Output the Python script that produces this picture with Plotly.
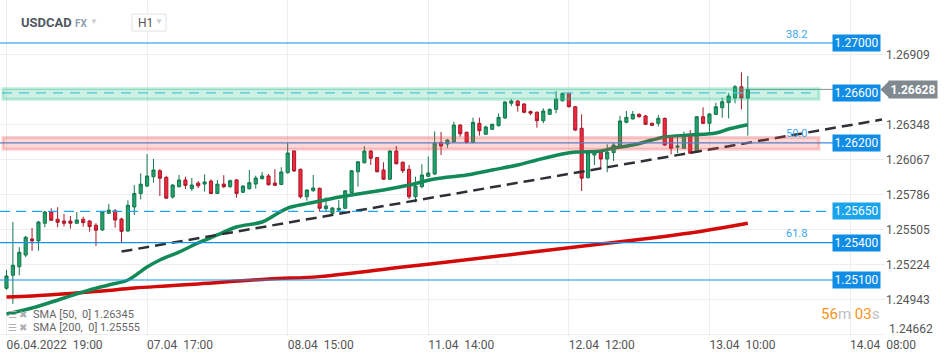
import plotly.graph_objects as go

# ---------------- data ----------------
x_tick_idx = [0, 22, 44, 66, 88, 110, 132]
x_tick_text = ["06.04.2022\u00a0\u00a019:00", "07.04\u00a0\u00a017:00", "08.04\u00a0\u00a015:00",
               "11.04\u00a0\u00a014:00", "12.04\u00a0\u00a012:00", "13.04\u00a0\u00a010:00",
               "14.04\u00a0\u00a008:00"]
y_tick_vals = [1.24662, 1.24943, 1.25224, 1.25505, 1.25786, 1.26067, 1.26348, 1.26628, 1.26909]
y_tick_text = ["", "1.24943", "1.25224", "1.25505", "1.25786", "1.26067", "1.26348", "", "1.26909"]
bottom_tick_label = "1.24662"

opens = [1.25034, 1.25138, 1.25206, 1.25300, 1.25429, 1.25413, 1.25555, 1.25645, 1.25587, 1.25573,
         1.25573, 1.25555, 1.25587, 1.25573, 1.25539, 1.25501, 1.25635, 1.25655, 1.25589, 1.25493,
         1.25685, 1.25794, 1.25853, 1.25928, 1.25976, 1.25923, 1.25765, 1.25848, 1.25902, 1.25832,
         1.25877, 1.25869, 1.25893, 1.25794, 1.25869, 1.25848, 1.25902, 1.25803, 1.25832, 1.25869,
         1.25912, 1.25934, 1.25877, 1.25866, 1.25960, 1.26134, 1.25987, 1.25767, 1.25815, 1.25835,
         1.25672, 1.25635, 1.25661, 1.25675, 1.25800, 1.25968, 1.26040, 1.26134, 1.26081, 1.25982,
         1.25908, 1.26134, 1.26044, 1.25987, 1.25767, 1.25848, 1.25931, 1.25950, 1.26203, 1.26190,
         1.26208, 1.26342, 1.26284, 1.26203, 1.26356, 1.26268, 1.26308, 1.26337, 1.26399, 1.26517,
         1.26535, 1.26511, 1.26450, 1.26445, 1.26377, 1.26428, 1.26468, 1.26537, 1.26596, 1.26489,
         1.26316, 1.25920, 1.26102, 1.26134, 1.26070, 1.26121, 1.26169, 1.26364, 1.26391, 1.26428,
         1.26415, 1.26356, 1.26356, 1.26396, 1.26257, 1.26165, 1.26156, 1.26262, 1.26124, 1.26409,
         1.26356, 1.26428, 1.26481, 1.26522, 1.26559, 1.26649, 1.26559]
highs = [1.25180, 1.25565, 1.25363, 1.25453, 1.25517, 1.25573, 1.25655, 1.25675, 1.25683, 1.25629,
         1.25613, 1.25645, 1.25608, 1.25581, 1.25555, 1.25655, 1.25709, 1.25669, 1.25599, 1.25739,
         1.25861, 1.25955, 1.26110, 1.26070, 1.25990, 1.25934, 1.25869, 1.25942, 1.25928, 1.25918,
         1.25893, 1.25947, 1.25907, 1.25902, 1.25940, 1.25904, 1.25910, 1.25861, 1.25982, 1.25936,
         1.25966, 1.25950, 1.25988, 1.26004, 1.26202, 1.26142, 1.25994, 1.25829, 1.25942, 1.25841,
         1.25763, 1.25685, 1.25741, 1.25821, 1.25982, 1.26054, 1.26174, 1.26142, 1.26086, 1.26044,
         1.26142, 1.26174, 1.26050, 1.26022, 1.25928, 1.26028, 1.26089, 1.26291, 1.26286, 1.26230,
         1.26369, 1.26350, 1.26290, 1.26401, 1.26401, 1.26337, 1.26354, 1.26436, 1.26533, 1.26551,
         1.26543, 1.26517, 1.26459, 1.26451, 1.26477, 1.26475, 1.26615, 1.26603, 1.26603, 1.26495,
         1.26428, 1.26130, 1.26138, 1.26142, 1.26188, 1.26198, 1.26417, 1.26455, 1.26455, 1.26436,
         1.26423, 1.26363, 1.26423, 1.26402, 1.26262, 1.26257, 1.26289, 1.26302, 1.26415, 1.26484,
         1.26439, 1.26521, 1.26561, 1.26597, 1.26663, 1.26765, 1.26735]
lows = [1.25020, 1.24908, 1.25138, 1.25284, 1.25334, 1.25334, 1.25523, 1.25573, 1.25523, 1.25528,
        1.25512, 1.25549, 1.25528, 1.25488, 1.25373, 1.25493, 1.25629, 1.25520, 1.25395, 1.25485,
        1.25621, 1.25746, 1.25845, 1.25880, 1.25773, 1.25749, 1.25753, 1.25842, 1.25829, 1.25815,
        1.25837, 1.25808, 1.25789, 1.25789, 1.25837, 1.25840, 1.25760, 1.25797, 1.25825, 1.25832,
        1.25906, 1.25857, 1.25853, 1.25861, 1.25953, 1.25966, 1.25754, 1.25735, 1.25809, 1.25648,
        1.25648, 1.25621, 1.25653, 1.25669, 1.25794, 1.25848, 1.26034, 1.26022, 1.25962, 1.25902,
        1.25902, 1.26026, 1.25957, 1.25749, 1.25722, 1.25835, 1.25926, 1.25942, 1.26102, 1.26160,
        1.26202, 1.26249, 1.26194, 1.26194, 1.26257, 1.26262, 1.26302, 1.26330, 1.26391, 1.26495,
        1.26450, 1.26437, 1.26421, 1.26321, 1.26356, 1.26423, 1.26437, 1.26531, 1.26483, 1.26294,
        1.25813, 1.25914, 1.26022, 1.25990, 1.25964, 1.26054, 1.26162, 1.26356, 1.26387, 1.26401,
        1.26342, 1.26334, 1.26330, 1.26174, 1.26108, 1.26118, 1.26150, 1.26110, 1.26118, 1.26350,
        1.26289, 1.26423, 1.26401, 1.26396, 1.26516, 1.26468, 1.26257]
closes = [1.25132, 1.25218, 1.25322, 1.25443, 1.25413, 1.25565, 1.25645, 1.25579, 1.25563, 1.25555,
          1.25555, 1.25581, 1.25560, 1.25528, 1.25499, 1.25648, 1.25661, 1.25581, 1.25490, 1.25699,
          1.25794, 1.25868, 1.25934, 1.25982, 1.25916, 1.25756, 1.25861, 1.25902, 1.25859, 1.25861,
          1.25855, 1.25886, 1.25794, 1.25868, 1.25848, 1.25896, 1.25794, 1.25853, 1.25880, 1.25918,
          1.25934, 1.25864, 1.25859, 1.25966, 1.26118, 1.25974, 1.25767, 1.25821, 1.25837, 1.25675,
          1.25693, 1.25677, 1.25675, 1.25815, 1.25976, 1.26048, 1.26134, 1.26076, 1.25968, 1.25908,
          1.26134, 1.26032, 1.25976, 1.25767, 1.25853, 1.25942, 1.25958, 1.26198, 1.26174, 1.26222,
          1.26342, 1.26272, 1.26203, 1.26364, 1.26297, 1.26327, 1.26348, 1.26404, 1.26527, 1.26535,
          1.26498, 1.26444, 1.26437, 1.26377, 1.26455, 1.26468, 1.26551, 1.26596, 1.26489, 1.26302,
          1.25916, 1.26124, 1.26128, 1.26070, 1.26124, 1.26182, 1.26375, 1.26404, 1.26428, 1.26409,
          1.26348, 1.26340, 1.26396, 1.26182, 1.26156, 1.26173, 1.26262, 1.26116, 1.26409, 1.26356,
          1.26431, 1.26489, 1.26529, 1.26575, 1.26649, 1.26559, 1.26628]

sma50_idx = [0, 4, 9, 13, 16, 19, 22, 24, 27, 30, 33, 36, 40, 42, 44, 47, 49, 53, 59, 63, 67, 72,
             76, 80, 83, 87, 89, 93, 95, 98, 101, 103, 107, 111, 113, 116]
sma50_val = [1.24827, 1.24875, 1.24956, 1.25020, 1.25060, 1.25100, 1.25204, 1.25260, 1.25324, 1.25397,
             1.25461, 1.25525, 1.25565, 1.25621, 1.25677, 1.25712, 1.25733, 1.25773, 1.25821, 1.25861,
             1.25910, 1.25942, 1.25982, 1.26022, 1.26062, 1.26110, 1.26126, 1.26134, 1.26158, 1.26182,
             1.26222, 1.26246, 1.26262, 1.26278, 1.26310, 1.26345]
sma200_idx = [0, 4, 10, 15, 20, 25, 30, 41, 49, 62, 69, 77, 85, 93, 101, 109, 116]
sma200_val = [1.24964, 1.24972, 1.24992, 1.25012, 1.25036, 1.25052, 1.25068, 1.25108, 1.25127, 1.25204,
              1.25244, 1.25292, 1.25340, 1.25388, 1.25437, 1.25493, 1.25555]

trend_idx = [18, 137]
trend_val = [1.25328, 1.26386]

solid_levels = [1.27000, 1.25400, 1.25100]
dashed_level = 1.25650
green_zone = [1.26537, 1.26645]
green_zone_mid = 1.26600
red_zone = [1.26136, 1.26254]
red_zone_mid = 1.26200
box_labels = ["1.27000", "1.26600", "1.26200", "1.25650", "1.25400", "1.25100"]
box_levels = [1.27000, 1.26600, 1.26200, 1.25650, 1.25400, 1.25100]
fib_labels = ["38.2", "50.0", "61.8"]
fib_levels = [1.27000, 1.26200, 1.25400]
current_price = 1.26628
current_label = "1.26628"
sma_legend = ["SMA [50,\u00a0\u00a00] 1.26345", "SMA [200,\u00a0\u00a00] 1.25555"]

# ---------------- layout helpers ----------------
PW, PH = 885, 336


def px(v):
    return v / PW


def py(v):
    return 1 - v / PH


fig = go.Figure()
fig.add_trace(go.Candlestick(
    x=list(range(len(opens))), open=opens, high=highs, low=lows, close=closes,
    increasing=dict(fillcolor="#23a26c", line=dict(color="#14774d", width=1)),
    decreasing=dict(fillcolor="#f0283c", line=dict(color="#a8182a", width=1)),
    whiskerwidth=0, showlegend=False, hoverinfo="skip"))
fig.add_trace(go.Scatter(x=sma200_idx, y=sma200_val, mode="lines",
                         line=dict(color="#d20a0a", width=3.5, shape="spline"),
                         showlegend=False, hoverinfo="skip"))
fig.add_trace(go.Scatter(x=sma50_idx, y=sma50_val, mode="lines",
                         line=dict(color="#128a58", width=3.5, shape="spline"),
                         showlegend=False, hoverinfo="skip"))
fig.add_trace(go.Scatter(x=trend_idx, y=trend_val, mode="lines",
                         line=dict(color="#2d3135", width=2.5, dash="11px,6px"),
                         showlegend=False, hoverinfo="skip"))

shapes = []
# current price line
shapes.append(dict(type="line", xref="x", yref="y", x0=len(opens) - 1, x1=(833 - 6.5) / 6.39,
                   y0=current_price, y1=current_price, line=dict(color="#8a9297", width=1)))
# horizontal level lines
for lv in solid_levels:
    shapes.append(dict(type="line", xref="paper", yref="y", x0=0, x1=px(833), y0=lv, y1=lv,
                       line=dict(color="#1592ea", width=1.2)))
shapes.append(dict(type="line", xref="paper", yref="y", x0=0, x1=px(828), y0=dashed_level, y1=dashed_level,
                   line=dict(color="#1fa3f0", width=1.4, dash="10px,6px")))
shapes.append(dict(type="line", xref="paper", yref="y", x0=0, x1=px(833), y0=red_zone_mid, y1=red_zone_mid,
                   line=dict(color="#3d8ee6", width=1.2)))
shapes.append(dict(type="line", xref="paper", yref="y", x0=px(2), x1=px(816), y0=green_zone_mid,
                   y1=green_zone_mid, line=dict(color="#5fc3ee", width=1.2, dash="10px,7px")))
# zones
shapes.append(dict(type="rect", xref="paper", yref="y", x0=px(3), x1=px(819),
                   y0=green_zone[0] + 0.00012, y1=green_zone[1] - 0.00012,
                   fillcolor="rgba(40,195,140,0.23)", line=dict(color="rgba(40,195,140,0.3)", width=3)))
shapes.append(dict(type="rect", xref="paper", yref="y", x0=px(3), x1=px(819),
                   y0=red_zone[0] + 0.00012, y1=red_zone[1] - 0.00012,
                   fillcolor="rgba(240,60,60,0.2)", line=dict(color="rgba(240,60,60,0.24)", width=3)))
# H1 selector box
shapes.append(dict(type="rect", xref="paper", yref="paper", x0=px(132), x1=px(166), y0=py(31), y1=py(14),
                   line=dict(color="#dfe2e6", width=1), fillcolor="white"))
# current price pointer
shapes.append(dict(type="path", xref="paper", yref="y",
                   path=f"M {px(880.5)},{current_price} L {px(889)},{current_price + 0.00067} "
                        f"L {px(889)},{current_price - 0.00067} Z",
                   fillcolor="#7f898f", line=dict(width=0)))

ann = []
for lab, lv in zip(box_labels, box_levels):
    col = "#1aa4ec" if lab == "1.25650" else "#0f8ce6"
    ann.append(dict(xref="paper", yref="y", x=px(856.5), y=lv, xanchor="center", yanchor="middle",
                    text=lab, showarrow=False,
                    font=dict(color="white", size=12), bgcolor=col, width=45, height=14, borderpad=1))
ann.append(dict(xref="paper", yref="y", x=px(912.5), y=current_price, xanchor="center", yanchor="middle",
                text="<b>" + current_label + "</b>",
                showarrow=False, font=dict(color="white", size=12), bgcolor="#7f898f",
                width=46, height=15, borderpad=1))
for lab, lv in zip(fib_labels, fib_levels):
    ann.append(dict(xref="paper", yref="y", x=px(796), y=lv, yshift=9, xanchor="center", yanchor="middle",
                    text=lab, showarrow=False, font=dict(color="#3aa6f0", size=11)))
# lowest price-axis label (raised above the time axis, as in the original)
ann.append(dict(xref="paper", yref="paper", x=px(887), y=py(329), xanchor="left", yanchor="middle",
                text=bottom_tick_label, showarrow=False, font=dict(color="#555", size=12)))
# header
hdr = dict(xref="paper", yref="paper", yanchor="middle", xanchor="left", showarrow=False)
ann.append(dict(hdr, x=px(19), y=py(23), text="<b>USDCAD</b>", font=dict(color="#4f5862", size=13)))
ann.append(dict(hdr, x=px(73), y=py(24), text="<b>FX</b>", font=dict(color="#8fa0ad", size=10)))
ann.append(dict(hdr, x=px(88), y=py(21), text="▼", font=dict(color="#c8ccd0", size=8)))
ann.append(dict(hdr, x=px(136), y=py(23), text="H1", font=dict(color="#555", size=12)))
ann.append(dict(hdr, x=px(153), y=py(22), text="▼", font=dict(color="#c8ccd0", size=8)))
# SMA legend
for i, t in enumerate(sma_legend):
    yy = py(314 + 13 * i)
    ann.append(dict(hdr, x=px(6), y=yy, text="☰ ✖", font=dict(color="#b0b0b0", size=10)))
    ann.append(dict(hdr, x=px(31), y=yy, text=t, font=dict(color="#666", size=11)))
# timer
ann.append(dict(xref="paper", yref="paper", x=px(881), y=py(314), xanchor="right", yanchor="middle",
                text="<span style='color:#f7941d'>56</span><span style='color:#c0c0c0'>m</span> "
                     "<span style='color:#f7941d'>03</span><span style='color:#c0c0c0'>s</span>",
                showarrow=False, font=dict(size=15)))

fig.update_layout(
    width=950, height=360, margin=dict(l=0, r=65, t=0, b=24),
    paper_bgcolor="white", plot_bgcolor="white",
    font=dict(family="Roboto", color="#555"),
    shapes=shapes, annotations=ann, showlegend=False,
    xaxis=dict(range=[-1.017, 137.47], tickvals=x_tick_idx, ticktext=x_tick_text,
               ticklabelposition="outside right", showgrid=True, gridcolor="#eeeeee", gridwidth=1,
               zeroline=False, showline=False, ticks="", tickfont=dict(size=12, color="#555"),
               rangeslider=dict(visible=False), fixedrange=True),
    yaxis=dict(range=[1.24651, 1.273447], side="right", tickvals=y_tick_vals, ticktext=y_tick_text,
               showgrid=True, gridcolor="#eeeeee", gridwidth=1, zeroline=False, showline=False,
               ticks="", tickfont=dict(size=12, color="#555"), fixedrange=True),
)

fig.write_html("out.html", config={"displayModeBar": False},
               post_script="document.body.style.margin='0px';")
